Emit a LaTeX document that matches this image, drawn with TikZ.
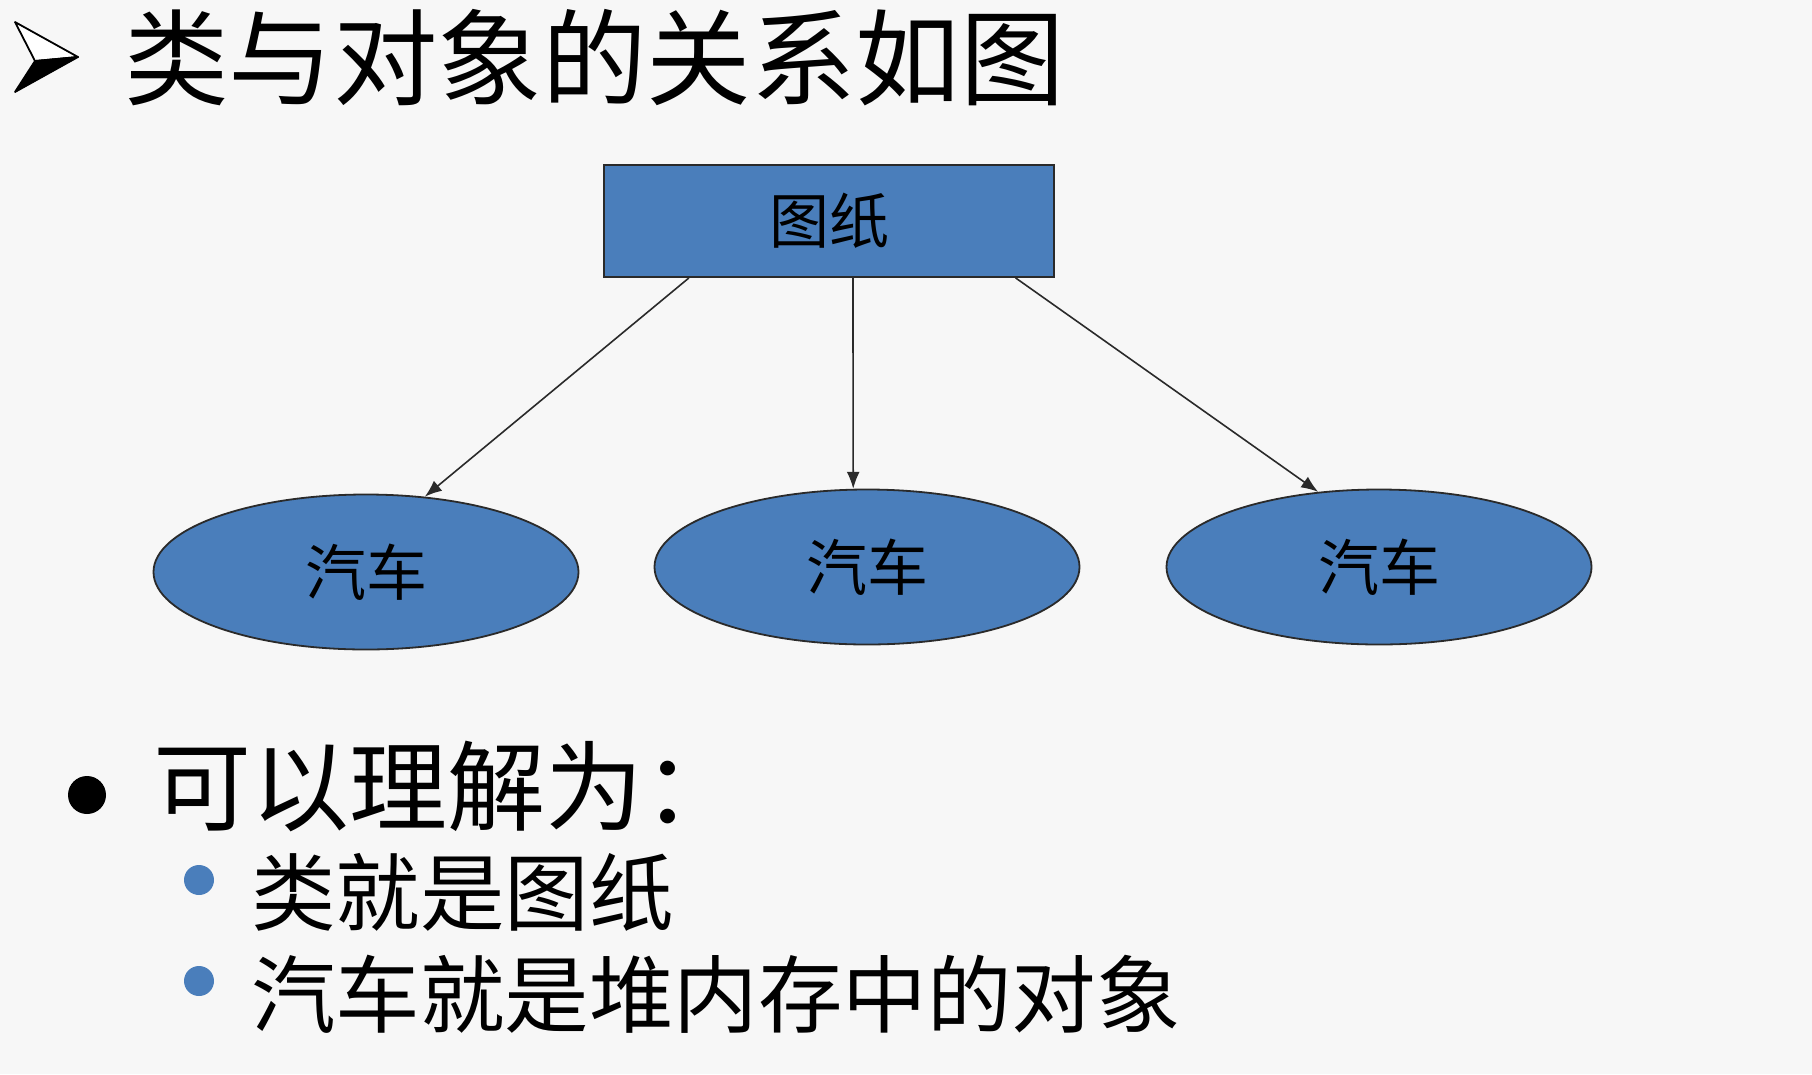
\documentclass[tikz,border=0pt]{standalone}
\usepackage{fontspec}
\newfontfamily\cjk{Noto Sans CJK SC}
\usetikzlibrary{shapes.geometric,arrows.meta,calc}
\definecolor{shapeblue}{HTML}{4A7EBB}
\definecolor{bgcol}{HTML}{F7F7F7}
\definecolor{edgecol}{HTML}{2A2A2A}
\begin{document}
\begin{tikzpicture}[x=1pt,y=-1pt,
  shapestyle/.style={fill=shapeblue,draw=edgecol,line width=1.8pt,inner sep=0pt},
  carnode/.style={shapestyle,ellipse,minimum width=425pt,minimum height=155pt,
    font=\cjk\fontsize{61}{70}\selectfont},
  conn/.style={draw=edgecol,line width=1.6pt,-{Latex[length=17pt,width=13pt]}},
  txt/.style={anchor=west,inner sep=0pt,text=black}]
\fill[bgcol] (0,0) rectangle (1812,1074);
\useasboundingbox (0,0) rectangle (1812,1074);
% title arrowhead
\filldraw[fill=white,draw=black,line width=1.8pt,line join=round] (15,22) -- (78,57) -- (35,61) -- cycle;
\filldraw[fill=black,draw=black,line width=1.8pt,line join=round] (35,61) -- (78,57) -- (15,92) -- cycle;
\node[txt,font=\cjk\fontsize{104.5}{120}\selectfont] (title) at (124,58) {类与对象的关系如图};
% diagram
\node[shapestyle,rectangle,minimum width=450pt,minimum height=112pt,
  font=\cjk\fontsize{60}{70}\selectfont] (box) at (829,221) {图纸};
\node[carnode] (e1) at (366,572) {汽车};
\node[carnode] (e2) at (867,567) {汽车};
\node[carnode] (e3) at (1379,567) {汽车};
\coordinate (s1) at ($(box.south west)!0.19!(box.south east)$);
\coordinate (s2) at ($(box.south west)!0.553!(box.south east)$);
\coordinate (s3) at ($(box.south west)!0.913!(box.south east)$);
\draw[conn] (s1) -- (e1.52);
\draw[conn] (s2) -- (e2.100);
\draw[conn] (s3) -- (e3.129);
% bullets
\node[circle,fill=black,minimum size=38pt,inner sep=0pt] (b0) at (87,795) {};
\node[txt,font=\cjk\fontsize{98}{110}\selectfont] (t0) at (153,786) {可以理解为：};
\node[circle,fill=shapeblue,minimum size=30pt,inner sep=0pt] (b1) at (199,880) {};
\node[txt,font=\cjk\fontsize{84.5}{95}\selectfont] (t1) at (251,892) {类就是图纸};
\node[circle,fill=shapeblue,minimum size=30pt,inner sep=0pt] (b2) at (199,981) {};
\node[txt,font=\cjk\fontsize{84.5}{95}\selectfont] (t2) at (251,994) {汽车就是堆内存中的对象};
\end{tikzpicture}
\end{document}
